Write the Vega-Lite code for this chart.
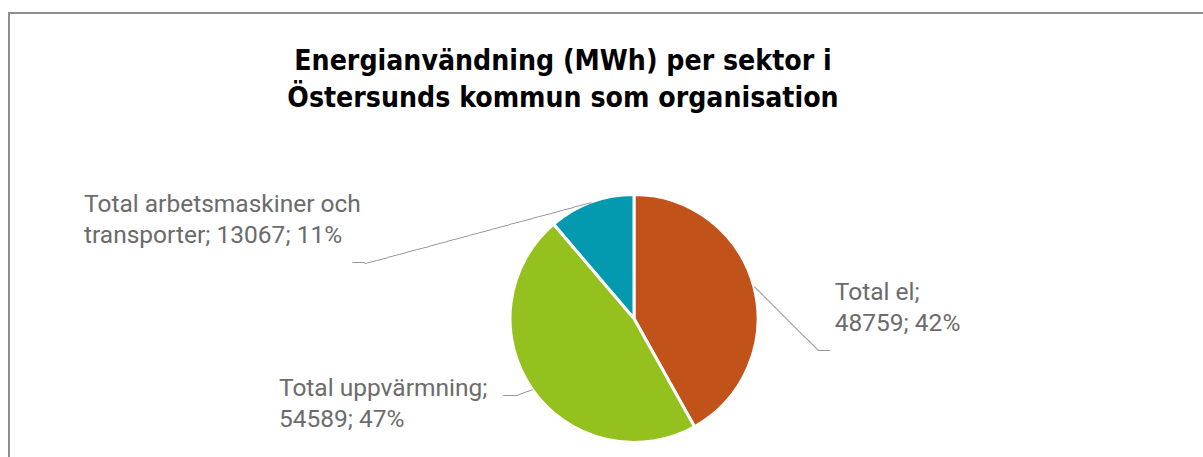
{
  "$schema": "https://vega.github.io/schema/vega-lite/v6.json",
  "autosize": {"type": "none"},
  "padding": {"left": 9, "top": 13, "right": -56, "bottom": -167},
  "width": 1250,
  "height": 611,
  "background": "white",
  "view": {"stroke": "#8f8f8f", "strokeWidth": 2},
  "config": {"view": {"stroke": "#8f8f8f", "strokeWidth": 2}},
  "title": {
    "text": ["Energianvändning (MWh) per sektor i", "Östersunds kommun som organisation"],
    "font": "DejaVu Sans Condensed",
    "fontSize": 28.2,
    "fontWeight": "bold",
    "color": "#000000",
    "anchor": "middle",
    "orient": "top",
    "baseline": "top",
    "lineHeight": 37,
    "dx": -71,
    "dy": 70,
    "offset": -30
  },
  "data": {
    "values": [
      {"sektor": "Total el", "mwh": 48759, "andel": "42%", "ordning": 1, "etikett": "Total el;\n48759; 42%"},
      {"sektor": "Total uppvärmning", "mwh": 54589, "andel": "47%", "ordning": 2, "etikett": "Total uppvärmning;\n54589; 47%"},
      {"sektor": "Total arbetsmaskiner och transporter", "mwh": 13067, "andel": "11%", "ordning": 3, "etikett": "Total arbetsmaskiner och\ntransporter; 13067; 11%"}
    ]
  },
  "encoding": {
    "theta": {"field": "mwh", "type": "quantitative", "stack": true},
    "order": {"field": "ordning", "type": "quantitative"}
  },
  "layer": [
    {
      "mark": {"type": "arc", "outerRadius": 124, "stroke": "white", "strokeWidth": 3},
      "encoding": {
        "color": {
          "field": "sektor",
          "type": "nominal",
          "scale": {
            "domain": ["Total el", "Total uppvärmning", "Total arbetsmaskiner och transporter"],
            "range": ["#C0521A", "#95C11F", "#0399AE"]
          },
          "legend": null
        }
      }
    },
    {
      "mark": {
        "type": "text",
        "radius": 124,
        "font": "DejaVu Sans Mono",
        "fontSize": 10,
        "color": "#8c8c8c",
        "align": "left",
        "baseline": "middle",
        "text": {"expr": "datum.ordning == 1 ? '───────────────' : datum.ordning == 2 ? '───' : '───────────────────────────────────────'"},
        "angle": {"expr": "datum.ordning == 1 ? 44.8 : datum.ordning == 2 ? 159.7 : 164.9"}
      }
    },
    {
      "mark": {
        "type": "text",
        "radius": 124,
        "font": "DejaVu Sans Mono",
        "fontSize": 10,
        "color": "#8c8c8c",
        "baseline": "middle",
        "text": "──",
        "align": {"expr": "datum.ordning == 1 ? 'left' : 'right'"},
        "dx": {"expr": "datum.ordning == 1 ? 64.1 : datum.ordning == 2 ? -16.9 : -226.7"},
        "dy": {"expr": "datum.ordning == 1 ? 63.6 : datum.ordning == 2 ? 6.3 : 61.2"}
      }
    },
    {
      "mark": {
        "type": "text",
        "radius": 150,
        "font": "Roboto",
        "fontSize": 24.5,
        "color": "#6b6b6b",
        "lineBreak": "\n",
        "lineHeight": 31,
        "baseline": "middle",
        "align": "left",
        "dx": {"expr": "datum.ordning == 1 ? 55.6 : datum.ordning == 2 ? -231.9 : -498.2"},
        "dy": {"expr": "datum.ordning == 1 ? 12.5 : datum.ordning == 2 ? -15 : 27"}
      },
      "encoding": {
        "text": {"field": "etikett", "type": "nominal"}
      }
    }
  ]
}
